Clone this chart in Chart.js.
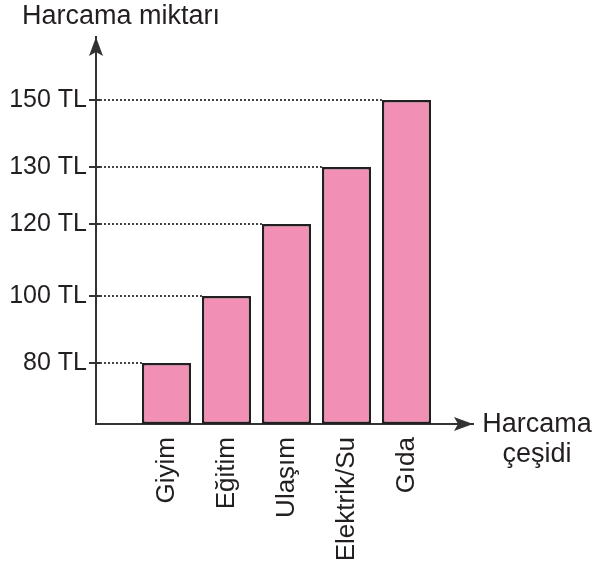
<!DOCTYPE html>
<html>
<head>
<meta charset="utf-8">
<script src="https://cdn.jsdelivr.net/npm/chart.js@4.4.1/dist/chart.umd.min.js"></script>
<style>
html, body { margin: 0; padding: 0; background: #ffffff; }
canvas { display: block; }
</style>
</head>
<body>
<canvas id="c" width="594" height="572"></canvas>
<script>
// ---- data ----
const categories = ['Giyim', 'Eğitim', 'Ulaşım', 'Elektrik/Su', 'Gıda'];
const spending = [80, 100, 120, 130, 150];
const yTickValues = [80, 100, 120, 130, 150];
const yTickSuffix = ' TL';
const yAxisTitle = 'Harcama miktarı';
const xAxisTitle = ['Harcama', 'çeşidi'];

// ---- schematic (non-linear) value axis as drawn in the reference ----
const yScaleKnots = [[60, 0], [80, 0.1576], [100, 0.3307], [120, 0.5168], [130, 0.6641], [150, 0.8372], [170, 1]];

class PiecewiseScale extends Chart.LinearScale {
  decimalFor(value) {
    const k = yScaleKnots;
    if (value <= k[0][0]) return k[0][1];
    for (let i = 1; i < k.length; i++) {
      if (value <= k[i][0]) {
        const t = (value - k[i - 1][0]) / (k[i][0] - k[i - 1][0]);
        return k[i - 1][1] + t * (k[i][1] - k[i - 1][1]);
      }
    }
    return k[k.length - 1][1];
  }
  getPixelForValue(value) {
    if (value === null || value === undefined || isNaN(value)) return NaN;
    return this.getPixelForDecimal(this.decimalFor(value));
  }
  getValueForPixel(pixel) {
    const d = this.getDecimalForPixel(pixel);
    const k = yScaleKnots;
    for (let i = 1; i < k.length; i++) {
      if (d <= k[i][1]) {
        const t = (d - k[i - 1][1]) / (k[i][1] - k[i - 1][1]);
        return k[i - 1][0] + t * (k[i][0] - k[i - 1][0]);
      }
    }
    return k[k.length - 1][0];
  }
}
PiecewiseScale.id = 'piecewise';
PiecewiseScale.defaults = Chart.LinearScale.defaults;
Chart.register(PiecewiseScale);

const FONT = "'Liberation Sans', Arial, Helvetica, sans-serif";
const INK = '#231f20';
const AXIS = '#333333';

const decorPlugin = {
  id: 'decor',
  beforeDatasetsDraw(chart) {
    const ctx = chart.ctx;
    const area = chart.chartArea;
    const meta = chart.getDatasetMeta(0);
    ctx.save();
    ctx.strokeStyle = '#444444';
    ctx.lineWidth = 2;
    ctx.setLineDash([2, 2]);
    meta.data.forEach((bar) => {
      const y = Math.round(bar.y);
      ctx.beginPath();
      ctx.moveTo(area.left + 4, y);
      ctx.lineTo(bar.x - bar.width / 2, y);
      ctx.stroke();
    });
    ctx.restore();
  },
  afterDraw(chart) {
    const ctx = chart.ctx;
    const area = chart.chartArea;
    ctx.save();
    ctx.fillStyle = AXIS;
    // y-axis arrow
    const yx = area.left;
    ctx.beginPath();
    ctx.moveTo(yx, area.top);
    ctx.lineTo(yx - 7, area.top + 19);
    ctx.lineTo(yx, area.top + 15);
    ctx.lineTo(yx + 7, area.top + 19);
    ctx.closePath();
    ctx.fill();
    // x-axis arrow
    const xy = area.bottom;
    ctx.beginPath();
    ctx.moveTo(area.right, xy);
    ctx.lineTo(area.right - 19, xy - 7);
    ctx.lineTo(area.right - 15, xy);
    ctx.lineTo(area.right - 19, xy + 7);
    ctx.closePath();
    ctx.fill();
    // y tick marks crossing the axis slightly
    const yScale = chart.scales.y;
    ctx.strokeStyle = AXIS;
    ctx.lineWidth = 2;
    yScale.ticks.forEach((t) => {
      const py = Math.round(yScale.getPixelForValue(t.value));
      ctx.beginPath();
      ctx.moveTo(area.left, py);
      ctx.lineTo(area.left + 4, py);
      ctx.stroke();
    });
    // titles
    ctx.fillStyle = INK;
    ctx.font = '27px ' + FONT;
    ctx.textBaseline = 'alphabetic';
    ctx.textAlign = 'left';
    ctx.fillText(yAxisTitle, 22, 24);
    ctx.textAlign = 'center';
    ctx.fillText(xAxisTitle[0], 537, 432);
    ctx.fillText(xAxisTitle[1], 537, 462);
    ctx.restore();
  }
};

new Chart(document.getElementById('c'), {
  type: 'bar',
  data: {
    datasets: [{
      data: categories.map((c, i) => ({ x: i, y: spending[i] })),
      backgroundColor: '#f28fb5',
      borderColor: '#231f20',
      borderWidth: 2.5,
      borderSkipped: false,
      categoryPercentage: 1,
      barPercentage: 0.82
    }]
  },
  options: {
    responsive: false,
    animation: false,
    devicePixelRatio: 1,
    layout: { padding: { top: 37, right: 121, left: 0, bottom: 0 } },
    plugins: { legend: { display: false }, tooltip: { enabled: false }, title: { display: false } },
    scales: {
      x: {
        type: 'linear',
        bounds: 'data',
        offset: false,
        min: -1.175,
        max: 5.108,
        afterBuildTicks: (s) => { s.ticks = categories.map((c, i) => ({ value: i })); },
        afterFit: (s) => { s.height = 148; },
        ticks: {
          autoSkip: false,
          minRotation: 90,
          maxRotation: 90,
          padding: 5,
          color: INK,
          font: { size: 26, family: FONT },
          callback: (v) => categories[v]
        },
        grid: { display: false },
        border: { display: true, color: AXIS, width: 2 }
      },
      y: {
        type: 'piecewise',
        bounds: 'data',
        min: 60,
        max: 170,
        afterBuildTicks: (s) => { s.ticks = yTickValues.map((v) => ({ value: v })); },
        afterFit: (s) => { s.width = 96; },
        ticks: {
          autoSkip: false,
          padding: 2,
          color: INK,
          font: { size: 25, family: FONT },
          callback: (v) => v + yTickSuffix
        },
        grid: { drawOnChartArea: false, drawTicks: true, tickLength: 7, color: AXIS, lineWidth: 2 },
        border: { display: true, color: AXIS, width: 2 }
      }
    }
  },
  plugins: [decorPlugin]
});
</script>
</body>
</html>
